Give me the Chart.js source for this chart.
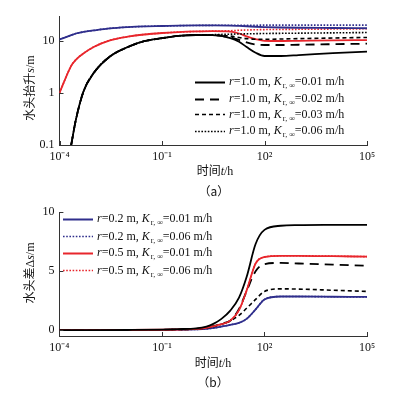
<!DOCTYPE html>
<html><head><meta charset="utf-8">
<script src="https://cdn.jsdelivr.net/npm/chart.js@4.4.1/dist/chart.umd.min.js"></script>
<style>
html,body{margin:0;padding:0;background:#fff;}
#wrap{position:relative;width:395px;height:400px;overflow:hidden;font-family:"Liberation Serif","Times New Roman",serif;color:#111;}
canvas{position:absolute;left:0;}
.lbl{position:absolute;white-space:nowrap;font-size:12px;line-height:1;transform:translate(-50%,-50%);}
.cjk{font-family:"Noto Sans CJK SC",sans-serif;}
.rot{transform:translate(-50%,-50%) rotate(-90deg);}
.leg{position:absolute;white-space:nowrap;font-size:12px;line-height:1;display:flex;align-items:center;transform:translateY(-50%);}
.leg svg{display:block;margin-right:4px;}
.leg sub{font-size:8px;vertical-align:-3px;margin-left:1px;}
</style></head>
<body><div id="wrap">
<canvas id="ca" width="395" height="200" style="top:0"></canvas>
<canvas id="cb" width="395" height="200" style="top:200px"></canvas>
</div>
<script>
// ---------- data ----------
// x-axis tick labels (both panels)
const xTickValues = [1e-4, 1e-1, 1e2, 1e5];
const xTickLabels = ['10\u207B\u2074', '10\u207B\u00B9', '10\u00B2', '10\u2075'];
// panel (a): y ticks (log scale)
const yTickValuesA = [0.1, 1, 10];
const yTickLabelsA = ['0.1', '1', '10'];
// panel (b): y ticks
const yTickValuesB = [0, 5, 10];
const yTickLabelsB = ['0', '5', '10'];

// panel (a) time axis, t/h
const timeA = [1e-4, 2.2e-4, 3e-4, 5e-4, 1e-3, 3e-3, 1e-2, 3e-2, 0.1, 0.3, 1, 3, 10, 18, 30, 55, 100, 300, 1000, 1e4, 1e5];
// head rise s/m
const sBlue_r02_K001 = [10.6, 12.8, 13.8, 14.8, 15.8, 17.3, 18.3, 18.9, 19.2, 19.5, 19.7, 19.8, 19.6, 19.3, 19.0, 18.6, 18.3, 18.0, 17.8, 17.6, 17.4];
const sBlue_r02_K006 = [10.6, 12.8, 13.8, 14.8, 15.8, 17.3, 18.3, 18.9, 19.2, 19.5, 19.7, 19.8, 19.9, 19.9, 19.9, 19.9, 20.0, 20.0, 20.0, 20.0, 20.0];
const sRed_r05_K001 = [1.0, 3.3, 4.3, 5.7, 7.6, 10.2, 12.0, 13.2, 14.1, 14.7, 15.1, 15.3, 15.0, 13.8, 12.2, 10.8, 10.0, 9.9, 10.0, 10.2, 10.3];
const sRed_r05_K006 = [1.0, 3.3, 4.3, 5.7, 7.6, 10.2, 12.0, 13.2, 14.1, 14.7, 15.1, 15.3, 15.6, 15.9, 16.1, 16.3, 16.4, 16.5, 16.6, 16.8, 17.0];
const sBlack_r10_K001 = [null, 0.1, 0.3, 1.05, 2.4, 5.0, 7.6, 9.8, 11.2, 12.4, 12.9, 12.8, 11.3, 9.6, 7.6, 5.9, 5.1, 5.1, 5.3, 5.8, 6.2];
const sBlack_r10_K002 = [null, 0.1, 0.3, 1.05, 2.4, 5.0, 7.6, 9.8, 11.2, 12.4, 12.9, 12.8, 11.6, 10.4, 9.3, 8.5, 8.3, 8.3, 8.4, 8.6, 8.8];
const sBlack_r10_K003 = [null, 0.1, 0.3, 1.05, 2.4, 5.0, 7.6, 9.8, 11.2, 12.4, 12.9, 12.9, 12.3, 11.6, 11.0, 10.7, 10.7, 10.8, 11.0, 11.3, 11.6];
const sBlack_r10_K006 = [null, 0.1, 0.3, 1.05, 2.4, 5.0, 7.6, 9.8, 11.2, 12.4, 12.9, 13.1, 13.4, 13.5, 13.6, 13.7, 13.8, 13.9, 14.0, 14.2, 14.4];

// panel (b) time axis, t/h
const timeB = [1e-4, 1e-3, 1e-2, 0.1, 0.3, 1, 2, 3.3, 5.5, 10, 18, 30, 55, 100, 300, 1000, 1e4, 1e5];
// head difference Δs/m
const dBlack_r10_K001 = [0, 0, 0.01, 0.04, 0.08, 0.15, 0.3, 0.55, 0.95, 1.65, 2.75, 4.5, 7.3, 8.5, 8.85, 8.9, 8.92, 8.93];
const dRed_r05_K001   = [0, 0, 0.01, 0.03, 0.05, 0.1, 0.2, 0.33, 0.5, 0.8, 1.7, 3.35, 5.65, 6.2, 6.3, 6.3, 6.27, 6.23];
const dBlack_r10_K002 = [0, 0, 0.01, 0.03, 0.05, 0.1, 0.2, 0.35, 0.55, 0.8, 1.8, 3.3, 5.0, 5.6, 5.7, 5.65, 5.55, 5.46];
const dBlack_r10_K003 = [0, 0, 0.01, 0.03, 0.05, 0.1, 0.18, 0.3, 0.5, 0.78, 1.25, 1.85, 2.6, 3.28, 3.5, 3.48, 3.38, 3.28];
const dBlue_r02_K001  = [0, 0, 0.01, 0.02, 0.04, 0.06, 0.1, 0.18, 0.3, 0.45, 0.62, 0.95, 1.75, 2.6, 2.85, 2.85, 2.83, 2.81];
const dBlue_r02_K006  = [0, 0, 0.01, 0.02, 0.04, 0.06, 0.1, 0.18, 0.3, 0.45, 0.62, 0.95, 1.75, 2.6, 2.85, 2.85, 2.83, 2.81];
const dRed_r05_K006   = [0, 0, 0.01, 0.03, 0.05, 0.1, 0.2, 0.33, 0.5, 0.8, 1.7, 3.35, 5.65, 6.2, 6.3, 6.3, 6.27, 6.23];

// legend labels
const legendA_r = ['1.0', '1.0', '1.0', '1.0'];
const legendA_K = ['0.01', '0.02', '0.03', '0.06'];
const legendB_r = ['0.2', '0.2', '0.5', '0.5'];
const legendB_K = ['0.01', '0.06', '0.01', '0.06'];

// ---------- styles ----------
const BLUE = '#2f2e8c', RED = '#e8262c', BLACK = '#000';
const STY = {
  solid:  {dash: [], w: 1.8},
  long:   {dash: [9, 6], w: 1.8},
  short:  {dash: [4, 3], w: 1.6},
  dot:    {dash: [1.6, 1.6], w: 1.6}
};

function pts(times, vals){ const o=[]; times.forEach((t,i)=>{ if(vals[i]!==null) o.push({x:t,y:vals[i]}); }); return o; }
function ds(times, vals, color, sty){
  return {data: pts(times, vals), borderColor: color, borderWidth: STY[sty].w, borderDash: STY[sty].dash,
          pointRadius: 0, fill: false, cubicInterpolationMode: 'monotone'};
}

const AXIS = '#333';
const inwardTicks = {
  id: 'inwardTicks',
  afterDraw(chart){
    const {ctx, chartArea: a, scales} = chart;
    ctx.save(); ctx.strokeStyle = AXIS; ctx.lineWidth = 1;
    scales.x.ticks.forEach(t=>{ const px = Math.round(scales.x.getPixelForValue(t.value)) + 0.5;
      ctx.beginPath(); ctx.moveTo(px, a.bottom); ctx.lineTo(px, a.bottom - 4); ctx.stroke(); });
    scales.y.ticks.forEach(t=>{ const py = Math.round(scales.y.getPixelForValue(t.value)) + 0.5;
      ctx.beginPath(); ctx.moveTo(a.left, py); ctx.lineTo(a.left + 4, py); ctx.stroke(); });
    ctx.restore();
  }
};

const TICKFONT = {family: '"Liberation Serif", "Times New Roman", serif', size: 12};
function xScale(){
  return {type: 'logarithmic', min: 1e-4, max: 1e5,
    afterBuildTicks: s => { s.ticks = xTickValues.map(v => ({value: v})); },
    afterFit: s => { s.height = 55; },
    ticks: {color: '#111', font: TICKFONT, padding: 5, maxRotation: 0, autoSkip: false,
      callback: v => { const i = xTickValues.findIndex(x => Math.abs(Math.log10(x) - Math.log10(v)) < 1e-6); return i >= 0 ? xTickLabels[i] : ''; }},
    grid: {display: false, drawTicks: false},
    border: {display: true, color: AXIS, width: 1}};
}

// panel (a)
new Chart(document.getElementById('ca'), {
  type: 'line',
  data: {datasets: [
    ds(timeA, sBlack_r10_K001, BLACK, 'solid'),
    ds(timeA, sBlack_r10_K002, BLACK, 'long'),
    ds(timeA, sBlack_r10_K003, BLACK, 'short'),
    ds(timeA, sBlack_r10_K006, BLACK, 'dot'),
    ds(timeA, sRed_r05_K001, RED, 'solid'),
    ds(timeA, sBlue_r02_K001, BLUE, 'solid'),
    ds(timeA, sRed_r05_K006, RED, 'dot'),
    ds(timeA, sBlue_r02_K006, BLUE, 'dot')
  ]},
  options: {
    responsive: false, animation: false,
    layout: {padding: {top: 16, right: 28, left: 0, bottom: 0}},
    plugins: {legend: {display: false}, tooltip: {enabled: false}},
    scales: {
      x: xScale(),
      y: {type: 'logarithmic', min: 0.1, max: 29.9,
        afterBuildTicks: s => { s.ticks = yTickValuesA.map(v => ({value: v})); },
        afterFit: s => { s.width = 59.5; },
        ticks: {color: '#111', font: TICKFONT, padding: 5,
          callback: v => { const i = yTickValuesA.findIndex(x => Math.abs(x - v) < 1e-9); return i >= 0 ? yTickLabelsA[i] : ''; }},
        grid: {display: false, drawTicks: false},
        border: {display: true, color: AXIS, width: 1}}
    }
  },
  plugins: [inwardTicks]
});

// panel (b)
new Chart(document.getElementById('cb'), {
  type: 'line',
  data: {datasets: [
    ds(timeB, dBlack_r10_K001, BLACK, 'solid'),
    ds(timeB, dRed_r05_K001, RED, 'solid'),
    ds(timeB, dBlack_r10_K002, BLACK, 'long'),
    ds(timeB, dBlack_r10_K003, BLACK, 'short'),
    ds(timeB, dBlue_r02_K001, BLUE, 'solid'),
    ds(timeB, dBlue_r02_K006, BLUE, 'dot'),
    ds(timeB, dRed_r05_K006, RED, 'dot')
  ]},
  options: {
    responsive: false, animation: false,
    layout: {padding: {top: 8.3, right: 28, left: 0, bottom: 0}},
    plugins: {legend: {display: false}, tooltip: {enabled: false}},
    scales: {
      x: Object.assign(xScale(), {afterFit: s => { s.height = 64; }}),
      y: {type: 'linear', min: -0.5, max: 10,
        afterBuildTicks: s => { s.ticks = yTickValuesB.map(v => ({value: v})); },
        afterFit: s => { s.width = 59.4; },
        ticks: {color: '#111', font: TICKFONT, padding: 5,
          callback: v => { const i = yTickValuesB.indexOf(v); return i >= 0 ? yTickLabelsB[i] : ''; }},
        grid: {display: false, drawTicks: false},
        border: {display: true, color: AXIS, width: 1}}
    }
  },
  plugins: [inwardTicks]
});

// ---------- text overlays ----------
const wrap = document.getElementById('wrap');
function addDiv(cls, html, x, y){ const d = document.createElement('div'); d.className = cls; d.innerHTML = html; d.style.left = x + 'px'; d.style.top = y + 'px'; wrap.appendChild(d); return d; }
addDiv('lbl rot', '<span class="cjk">水头抬升</span><i>s</i>/m', 29, 88);
addDiv('lbl', '<span class="cjk">时间</span><i>t</i>/h', 215, 170);
addDiv('lbl cjk', '（a）', 214, 191);
addDiv('lbl rot', '<span class="cjk">水头差</span>Δ<i>s</i>/m', 29, 273);
addDiv('lbl', '<span class="cjk">时间</span><i>t</i>/h', 213, 362);
addDiv('lbl cjk', '（b）', 213, 382);

function sample(color, sty){
  const s = STY[sty];
  return '<svg width="30" height="4"><line x1="0" y1="2" x2="30" y2="2" stroke="' + color + '" stroke-width="' + s.w +
    '" stroke-dasharray="' + (s.dash.length ? s.dash.join(',') : 'none') + '"/></svg>';
}
function legText(r, k){ return '<i>r</i>=' + r + ' m, <i>K</i><sub>r, ∞</sub>=' + k + ' m/h'; }
const legA = [[BLACK,'solid'],[BLACK,'long'],[BLACK,'short'],[BLACK,'dot']];
const legAy = [82, 99, 114.5, 131];
legA.forEach((s, i) => addDiv('leg', sample(s[0], s[1]) + '<span>' + legText(legendA_r[i], legendA_K[i]) + '</span>', 195, legAy[i]));
const legB = [[BLUE,'solid'],[BLUE,'dot'],[RED,'solid'],[RED,'dot']];
const legBy = [219.3, 236.7, 253.3, 270.7];
legB.forEach((s, i) => addDiv('leg', sample(s[0], s[1]) + '<span>' + legText(legendB_r[i], legendB_K[i]) + '</span>', 63, legBy[i]));
</script>
</body></html>
